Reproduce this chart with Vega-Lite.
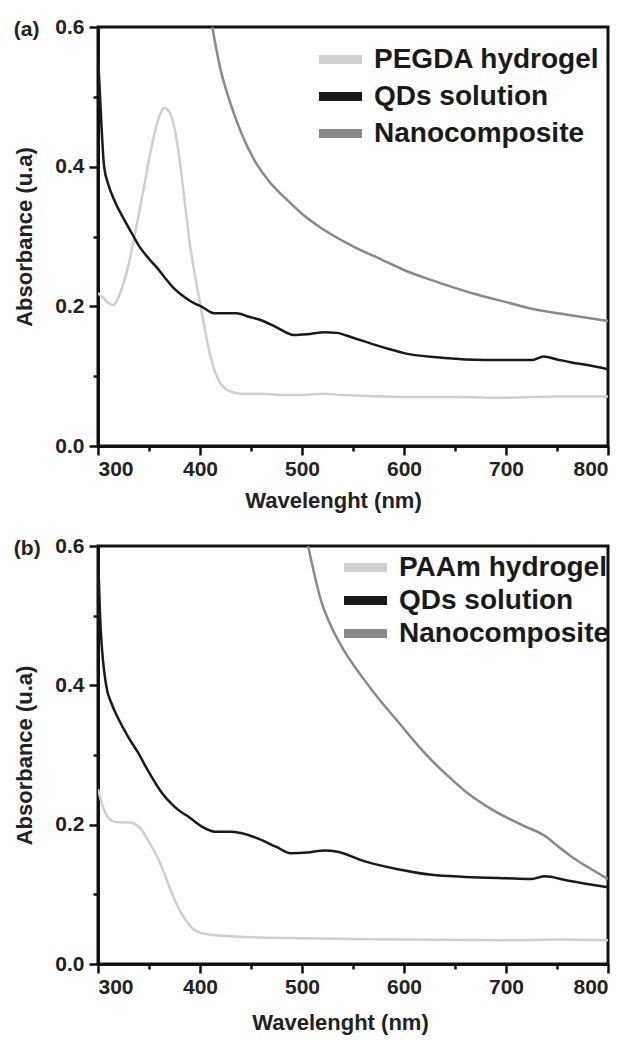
{
  "$schema": "https://vega.github.io/schema/vega-lite/v6.json",
  "background": "white",
  "padding": {"left": 12, "top": 14, "right": 10, "bottom": 5},
  "spacing": 20,
  "config": {
    "font": "Liberation Sans",
    "view": {"stroke": "#111111", "strokeWidth": 3},
    "axis": {
      "grid": false,
      "domainColor": "#111111",
      "domainWidth": 3,
      "tickColor": "#111111",
      "tickWidth": 2.5,
      "labelFont": "Liberation Sans",
      "labelFontWeight": "bold",
      "labelFontSize": 21,
      "labelColor": "#222222",
      "titleFont": "Liberation Sans",
      "titleFontWeight": "bold",
      "titleFontSize": 22,
      "titleColor": "#222222"
    },
    "legend": {
      "orient": "none",
      "title": null,
      "symbolType": "M-2.15,0L2.15,0",
      "symbolStrokeWidth": 9,
      "symbolSize": 400,
      "labelFont": "Liberation Sans",
      "labelFontWeight": "bold",
      "labelFontSize": 28,
      "labelColor": "#1a1a1a",
      "labelOffset": 19,
      "padding": 0,
      "labelLimit": 400
    },
    "title": {"font": "Liberation Sans", "fontWeight": "bold", "fontSize": 21, "color": "#222222"}
  },
  "datasets": {
    "a": [
      {"series": "PEGDA hydrogel", "wl": 300, "abs": 0.219},
      {"series": "PEGDA hydrogel", "wl": 305, "abs": 0.212},
      {"series": "PEGDA hydrogel", "wl": 310, "abs": 0.205},
      {"series": "PEGDA hydrogel", "wl": 315, "abs": 0.202},
      {"series": "PEGDA hydrogel", "wl": 320, "abs": 0.213},
      {"series": "PEGDA hydrogel", "wl": 325, "abs": 0.233},
      {"series": "PEGDA hydrogel", "wl": 330, "abs": 0.26},
      {"series": "PEGDA hydrogel", "wl": 335, "abs": 0.295},
      {"series": "PEGDA hydrogel", "wl": 340, "abs": 0.332},
      {"series": "PEGDA hydrogel", "wl": 345, "abs": 0.37},
      {"series": "PEGDA hydrogel", "wl": 350, "abs": 0.41},
      {"series": "PEGDA hydrogel", "wl": 355, "abs": 0.445},
      {"series": "PEGDA hydrogel", "wl": 360, "abs": 0.472},
      {"series": "PEGDA hydrogel", "wl": 365, "abs": 0.484},
      {"series": "PEGDA hydrogel", "wl": 370, "abs": 0.478},
      {"series": "PEGDA hydrogel", "wl": 375, "abs": 0.455},
      {"series": "PEGDA hydrogel", "wl": 380, "abs": 0.41},
      {"series": "PEGDA hydrogel", "wl": 385, "abs": 0.35},
      {"series": "PEGDA hydrogel", "wl": 390, "abs": 0.29},
      {"series": "PEGDA hydrogel", "wl": 395, "abs": 0.245},
      {"series": "PEGDA hydrogel", "wl": 400, "abs": 0.205},
      {"series": "PEGDA hydrogel", "wl": 405, "abs": 0.165},
      {"series": "PEGDA hydrogel", "wl": 410, "abs": 0.13},
      {"series": "PEGDA hydrogel", "wl": 415, "abs": 0.105},
      {"series": "PEGDA hydrogel", "wl": 420, "abs": 0.09},
      {"series": "PEGDA hydrogel", "wl": 425, "abs": 0.082},
      {"series": "PEGDA hydrogel", "wl": 432, "abs": 0.077},
      {"series": "PEGDA hydrogel", "wl": 440, "abs": 0.075},
      {"series": "PEGDA hydrogel", "wl": 460, "abs": 0.075},
      {"series": "PEGDA hydrogel", "wl": 480, "abs": 0.073},
      {"series": "PEGDA hydrogel", "wl": 500, "abs": 0.073},
      {"series": "PEGDA hydrogel", "wl": 520, "abs": 0.075},
      {"series": "PEGDA hydrogel", "wl": 540, "abs": 0.073},
      {"series": "PEGDA hydrogel", "wl": 560, "abs": 0.072},
      {"series": "PEGDA hydrogel", "wl": 600, "abs": 0.07},
      {"series": "PEGDA hydrogel", "wl": 650, "abs": 0.07},
      {"series": "PEGDA hydrogel", "wl": 700, "abs": 0.069},
      {"series": "PEGDA hydrogel", "wl": 750, "abs": 0.071},
      {"series": "PEGDA hydrogel", "wl": 800, "abs": 0.071},
      {"series": "QDs solution", "wl": 300, "abs": 0.56},
      {"series": "QDs solution", "wl": 302, "abs": 0.5},
      {"series": "QDs solution", "wl": 306, "abs": 0.4},
      {"series": "QDs solution", "wl": 310, "abs": 0.375},
      {"series": "QDs solution", "wl": 316, "abs": 0.352},
      {"series": "QDs solution", "wl": 325, "abs": 0.326},
      {"series": "QDs solution", "wl": 333, "abs": 0.305},
      {"series": "QDs solution", "wl": 340, "abs": 0.287},
      {"series": "QDs solution", "wl": 350, "abs": 0.268},
      {"series": "QDs solution", "wl": 358, "abs": 0.255},
      {"series": "QDs solution", "wl": 365, "abs": 0.242},
      {"series": "QDs solution", "wl": 375, "abs": 0.225},
      {"series": "QDs solution", "wl": 385, "abs": 0.213},
      {"series": "QDs solution", "wl": 395, "abs": 0.204},
      {"series": "QDs solution", "wl": 401, "abs": 0.2},
      {"series": "QDs solution", "wl": 414, "abs": 0.19},
      {"series": "QDs solution", "wl": 425, "abs": 0.19},
      {"series": "QDs solution", "wl": 436, "abs": 0.19},
      {"series": "QDs solution", "wl": 448, "abs": 0.185},
      {"series": "QDs solution", "wl": 460, "abs": 0.18},
      {"series": "QDs solution", "wl": 475, "abs": 0.17},
      {"series": "QDs solution", "wl": 492, "abs": 0.159},
      {"series": "QDs solution", "wl": 505, "abs": 0.16},
      {"series": "QDs solution", "wl": 522, "abs": 0.163},
      {"series": "QDs solution", "wl": 534, "abs": 0.162},
      {"series": "QDs solution", "wl": 550, "abs": 0.155},
      {"series": "QDs solution", "wl": 567, "abs": 0.147},
      {"series": "QDs solution", "wl": 585, "abs": 0.139},
      {"series": "QDs solution", "wl": 600, "abs": 0.133},
      {"series": "QDs solution", "wl": 632, "abs": 0.127},
      {"series": "QDs solution", "wl": 660, "abs": 0.124},
      {"series": "QDs solution", "wl": 698, "abs": 0.123},
      {"series": "QDs solution", "wl": 725, "abs": 0.123},
      {"series": "QDs solution", "wl": 737, "abs": 0.128},
      {"series": "QDs solution", "wl": 750, "abs": 0.124},
      {"series": "QDs solution", "wl": 763, "abs": 0.12},
      {"series": "QDs solution", "wl": 780, "abs": 0.116},
      {"series": "QDs solution", "wl": 800, "abs": 0.11},
      {"series": "Nanocomposite", "wl": 412, "abs": 0.6},
      {"series": "Nanocomposite", "wl": 420, "abs": 0.54},
      {"series": "Nanocomposite", "wl": 430, "abs": 0.49},
      {"series": "Nanocomposite", "wl": 440, "abs": 0.45},
      {"series": "Nanocomposite", "wl": 453, "abs": 0.41},
      {"series": "Nanocomposite", "wl": 470, "abs": 0.375},
      {"series": "Nanocomposite", "wl": 485, "abs": 0.353},
      {"series": "Nanocomposite", "wl": 502, "abs": 0.33},
      {"series": "Nanocomposite", "wl": 521, "abs": 0.31},
      {"series": "Nanocomposite", "wl": 550, "abs": 0.286},
      {"series": "Nanocomposite", "wl": 578, "abs": 0.267},
      {"series": "Nanocomposite", "wl": 600, "abs": 0.252},
      {"series": "Nanocomposite", "wl": 630, "abs": 0.236},
      {"series": "Nanocomposite", "wl": 666, "abs": 0.219},
      {"series": "Nanocomposite", "wl": 700, "abs": 0.206},
      {"series": "Nanocomposite", "wl": 730, "abs": 0.195},
      {"series": "Nanocomposite", "wl": 760, "abs": 0.188},
      {"series": "Nanocomposite", "wl": 800, "abs": 0.179}
    ],
    "b": [
      {"series": "PAAm hydrogel", "wl": 300, "abs": 0.251},
      {"series": "PAAm hydrogel", "wl": 305, "abs": 0.225},
      {"series": "PAAm hydrogel", "wl": 310, "abs": 0.21},
      {"series": "PAAm hydrogel", "wl": 317, "abs": 0.204},
      {"series": "PAAm hydrogel", "wl": 325, "abs": 0.203},
      {"series": "PAAm hydrogel", "wl": 332, "abs": 0.203},
      {"series": "PAAm hydrogel", "wl": 337, "abs": 0.2},
      {"series": "PAAm hydrogel", "wl": 342, "abs": 0.194},
      {"series": "PAAm hydrogel", "wl": 350, "abs": 0.175},
      {"series": "PAAm hydrogel", "wl": 359, "abs": 0.151},
      {"series": "PAAm hydrogel", "wl": 365, "abs": 0.13},
      {"series": "PAAm hydrogel", "wl": 372, "abs": 0.103},
      {"series": "PAAm hydrogel", "wl": 378, "abs": 0.083},
      {"series": "PAAm hydrogel", "wl": 385, "abs": 0.065},
      {"series": "PAAm hydrogel", "wl": 392, "abs": 0.052},
      {"series": "PAAm hydrogel", "wl": 398, "abs": 0.046},
      {"series": "PAAm hydrogel", "wl": 410, "abs": 0.042},
      {"series": "PAAm hydrogel", "wl": 430, "abs": 0.04},
      {"series": "PAAm hydrogel", "wl": 460, "abs": 0.038},
      {"series": "PAAm hydrogel", "wl": 500, "abs": 0.037},
      {"series": "PAAm hydrogel", "wl": 550, "abs": 0.036},
      {"series": "PAAm hydrogel", "wl": 600, "abs": 0.035},
      {"series": "PAAm hydrogel", "wl": 700, "abs": 0.034},
      {"series": "PAAm hydrogel", "wl": 750, "abs": 0.035},
      {"series": "PAAm hydrogel", "wl": 800, "abs": 0.034},
      {"series": "QDs solution", "wl": 300, "abs": 0.59},
      {"series": "QDs solution", "wl": 302, "abs": 0.5},
      {"series": "QDs solution", "wl": 308, "abs": 0.4},
      {"series": "QDs solution", "wl": 313, "abs": 0.375},
      {"series": "QDs solution", "wl": 320, "abs": 0.352},
      {"series": "QDs solution", "wl": 330, "abs": 0.325},
      {"series": "QDs solution", "wl": 339, "abs": 0.304},
      {"series": "QDs solution", "wl": 350, "abs": 0.275},
      {"series": "QDs solution", "wl": 362, "abs": 0.247},
      {"series": "QDs solution", "wl": 370, "abs": 0.233},
      {"series": "QDs solution", "wl": 378, "abs": 0.222},
      {"series": "QDs solution", "wl": 390, "abs": 0.21},
      {"series": "QDs solution", "wl": 401, "abs": 0.198},
      {"series": "QDs solution", "wl": 415, "abs": 0.19},
      {"series": "QDs solution", "wl": 430, "abs": 0.19},
      {"series": "QDs solution", "wl": 440, "abs": 0.188},
      {"series": "QDs solution", "wl": 457, "abs": 0.18},
      {"series": "QDs solution", "wl": 475, "abs": 0.168},
      {"series": "QDs solution", "wl": 489, "abs": 0.159},
      {"series": "QDs solution", "wl": 505, "abs": 0.16},
      {"series": "QDs solution", "wl": 522, "abs": 0.163},
      {"series": "QDs solution", "wl": 535, "abs": 0.161},
      {"series": "QDs solution", "wl": 560, "abs": 0.148},
      {"series": "QDs solution", "wl": 594, "abs": 0.136},
      {"series": "QDs solution", "wl": 627, "abs": 0.128},
      {"series": "QDs solution", "wl": 660, "abs": 0.125},
      {"series": "QDs solution", "wl": 700, "abs": 0.123},
      {"series": "QDs solution", "wl": 725, "abs": 0.122},
      {"series": "QDs solution", "wl": 738, "abs": 0.126},
      {"series": "QDs solution", "wl": 760, "abs": 0.12},
      {"series": "QDs solution", "wl": 800, "abs": 0.11},
      {"series": "Nanocomposite", "wl": 506, "abs": 0.6},
      {"series": "Nanocomposite", "wl": 519, "abs": 0.52},
      {"series": "Nanocomposite", "wl": 530, "abs": 0.48},
      {"series": "Nanocomposite", "wl": 542, "abs": 0.448},
      {"series": "Nanocomposite", "wl": 560, "abs": 0.41},
      {"series": "Nanocomposite", "wl": 575, "abs": 0.381},
      {"series": "Nanocomposite", "wl": 594, "abs": 0.348},
      {"series": "Nanocomposite", "wl": 610, "abs": 0.32},
      {"series": "Nanocomposite", "wl": 626, "abs": 0.294},
      {"series": "Nanocomposite", "wl": 646, "abs": 0.266},
      {"series": "Nanocomposite", "wl": 660, "abs": 0.248},
      {"series": "Nanocomposite", "wl": 686, "abs": 0.222},
      {"series": "Nanocomposite", "wl": 718, "abs": 0.198},
      {"series": "Nanocomposite", "wl": 738, "abs": 0.184},
      {"series": "Nanocomposite", "wl": 750, "abs": 0.17},
      {"series": "Nanocomposite", "wl": 767, "abs": 0.151},
      {"series": "Nanocomposite", "wl": 785, "abs": 0.135},
      {"series": "Nanocomposite", "wl": 800, "abs": 0.122}
    ]
  },
  "resolve": {"scale": {"color": "independent"}},
  "vconcat": [
    {
      "width": 510,
      "height": 419,
      "title": {"text": "(a)", "anchor": "start", "frame": "bounds", "dy": 24, "offset": 0},
      "data": {"name": "a"},
      "mark": {"type": "line", "strokeWidth": 2.5, "clip": true, "interpolate": "monotone"},
      "encoding": {
        "x": {
          "field": "wl", "type": "quantitative",
          "scale": {"domain": [300, 800], "nice": false, "zero": false},
          "axis": {
            "title": "Wavelenght (nm)",
            "values": [300, 350, 400, 450, 500, 550, 600, 650, 700, 750, 800],
            "labelExpr": "datum.value % 100 === 0 ? datum.label : ''",
            "tickSize": {"condition": {"test": "datum.value % 100 !== 0", "value": 5}, "value": 9},
            "labelPadding": 3,
            "titlePadding": 11,
            "titleX": 235
          }
        },
        "y": {
          "field": "abs", "type": "quantitative",
          "scale": {"domain": [0, 0.6], "nice": false},
          "axis": {
            "title": "Absorbance (u.a)",
            "values": [0, 0.1, 0.2, 0.3, 0.4, 0.5, 0.6],
            "format": ".1f",
            "labelExpr": "round(datum.value * 10) % 2 === 0 ? datum.label : ''",
            "tickSize": {"condition": {"test": "round(datum.value * 10) % 2 !== 0", "value": 5}, "value": 9},
            "labelPadding": 5,
            "titlePadding": 18
          }
        },
        "color": {
          "field": "series", "type": "nominal",
          "scale": {"domain": ["PEGDA hydrogel", "QDs solution", "Nanocomposite"], "range": ["#cfcfcf", "#1a1a1a", "#8a8a8a"]},
          "legend": {"legendX": 228, "legendY": 18, "rowPadding": 0}
        }
      }
    },
    {
      "width": 510,
      "height": 418,
      "title": {"text": "(b)", "anchor": "start", "frame": "bounds", "dy": 24, "offset": 0},
      "data": {"name": "b"},
      "mark": {"type": "line", "strokeWidth": 2.5, "clip": true, "interpolate": "monotone"},
      "encoding": {
        "x": {
          "field": "wl", "type": "quantitative",
          "scale": {"domain": [300, 800], "nice": false, "zero": false},
          "axis": {
            "title": "Wavelenght (nm)",
            "values": [300, 350, 400, 450, 500, 550, 600, 650, 700, 750, 800],
            "labelExpr": "datum.value % 100 === 0 ? datum.label : ''",
            "tickSize": {"condition": {"test": "datum.value % 100 !== 0", "value": 5}, "value": 9},
            "labelPadding": 3,
            "titlePadding": 15,
            "titleX": 242
          }
        },
        "y": {
          "field": "abs", "type": "quantitative",
          "scale": {"domain": [0, 0.6], "nice": false},
          "axis": {
            "title": "Absorbance (u.a)",
            "values": [0, 0.1, 0.2, 0.3, 0.4, 0.5, 0.6],
            "format": ".1f",
            "labelExpr": "round(datum.value * 10) % 2 === 0 ? datum.label : ''",
            "tickSize": {"condition": {"test": "round(datum.value * 10) % 2 !== 0", "value": 5}, "value": 9},
            "labelPadding": 5,
            "titlePadding": 18
          }
        },
        "color": {
          "field": "series", "type": "nominal",
          "scale": {"domain": ["PAAm hydrogel", "QDs solution", "Nanocomposite"], "range": ["#cfcfcf", "#1a1a1a", "#8a8a8a"]},
          "legend": {"legendX": 253, "legendY": 7, "rowPadding": -4}
        }
      }
    }
  ]
}
